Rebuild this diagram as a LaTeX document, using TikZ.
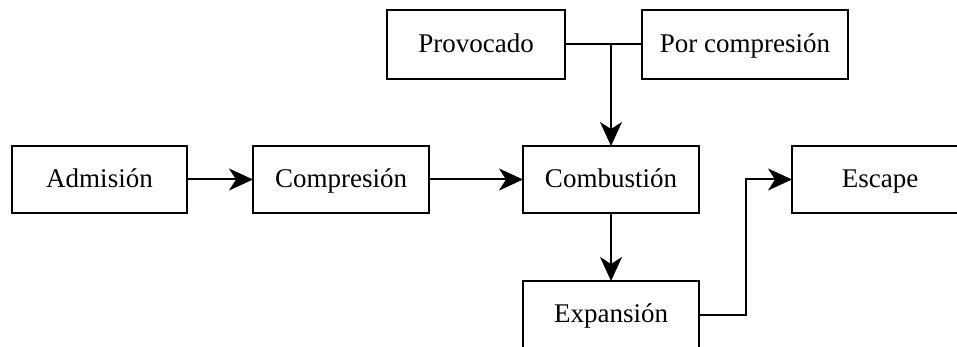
\documentclass[tikz,border=0pt]{standalone}
\usepackage{fontspec}
\setmainfont{Liberation Serif}
\usetikzlibrary{arrows.meta, positioning, calc}

\begin{document}
\begin{tikzpicture}
            [->, >={Stealth[length=12pt,width=11pt,inset=3.5pt]}, line width=1pt, node distance=47pt,
            etapa/.style={rectangle, align=center, draw=black, outer sep=0pt, minimum width=88pt, minimum height=33.5pt,
                text height=10pt, text depth=2pt, font=\fontsize{13.5}{15}\selectfont}]

            \useasboundingbox (0,0) rectangle (478.5pt,-173.5pt);
            \clip (0,0) rectangle (478.5pt,-173.5pt);

            \node[etapa,minimum width=87.5pt] (admision) at (49.75pt,-89.75pt) {Admisión};
            \node[etapa] (compresion) [right = 33pt of admision] {Compresión};
            \node[etapa] (combustion) [right = of compresion] {Combustión};
            \node[etapa] (escape) [right = 46.5pt of combustion] {Escape};
            \node[etapa] (expansion) [below = 34pt of combustion] {Expansión};
            \node[etapa,minimum width=89pt,minimum height=34.5pt] (provocado) [above left = 33.5pt and 23pt of combustion.north] {Provocado};
            \node[etapa,minimum width=103pt,minimum height=34.5pt] (porcompresion) [above right = 33.5pt and 15.5pt of combustion.north] {Por compresión};

            \coordinate (union) at (combustion.north |- provocado.east);
            \coordinate (giro) at ($(expansion.east)!0.5!(escape.west)$);

            \draw (admision) edge (compresion);
            \draw (compresion) edge (combustion);
            \draw[-] (provocado) -- (porcompresion);
            \draw (union) -- (combustion);
            \draw (combustion) edge (expansion);
            \draw (expansion) -| (giro) |- (escape);
        \end{tikzpicture}
\end{document}
